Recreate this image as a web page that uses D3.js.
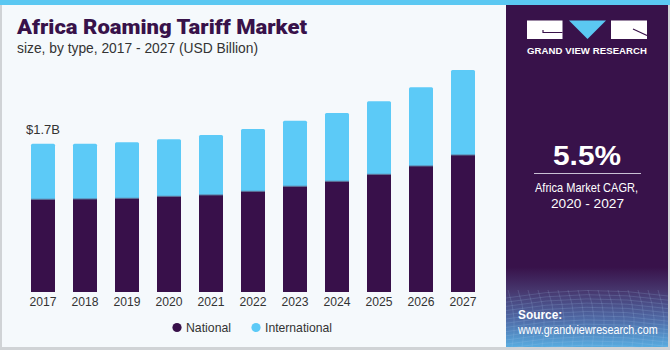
<!DOCTYPE html>
<html>
<head>
<meta charset="utf-8">
<script src="https://cdn.jsdelivr.net/npm/d3@7"></script>
<style>
  html, body { margin: 0; padding: 0; background: #fff; }
  svg { display: block; }
</style>
</head>
<body>
<div id="chart"></div>
<script>
// ---- data ----
const years = ["2017","2018","2019","2020","2021","2022","2023","2024","2025","2026","2027"];
const national = [1.063, 1.066, 1.074, 1.097, 1.112, 1.154, 1.212, 1.269, 1.349, 1.444, 1.570];
const international = [0.637, 0.634, 0.642, 0.653, 0.688, 0.714, 0.752, 0.783, 0.837, 0.902, 0.975];
const seriesNames = ["National", "International"];
const seriesColors = ["#38104a", "#5ccaf7"];
const firstLabel = "$1.7B";
const title = "Africa Roaming Tariff Market";
const subtitle = "size, by type, 2017 - 2027 (USD Billion)";
const cagrValue = "5.5%";
const cagrLabel = ["Africa Market CAGR,", "2020 - 2027"];

const W = 670, H = 350;
const FONT = "Liberation Sans, Arial, sans-serif";
const svg = d3.select("#chart").append("svg").attr("width", W).attr("height", H);
const defs = svg.append("defs");

// horizontally condensed text helper (keeps natural metrics inside the box)
function narrowText(g, x0, y0, sx, txt, size, weight) {
  return g.append("text").attr("transform", `translate(${x0},${y0}) scale(${sx},1)`)
    .attr("font-family", FONT).attr("font-size", size).attr("font-weight", weight || "normal")
    .attr("fill", "#fff").text(txt);
}

// background
svg.append("rect").attr("x", 0).attr("y", 0).attr("width", W).attr("height", H).attr("fill", "#f5f9fc");
// borders
svg.append("rect").attr("x", 0).attr("y", 0).attr("width", 2).attr("height", H).attr("fill", "#d0d3d6");
svg.append("rect").attr("x", 0).attr("y", H - 3).attr("width", W).attr("height", 3).attr("fill", "#d0d3d6");
svg.append("rect").attr("x", W - 2).attr("y", 0).attr("width", 2).attr("height", H).attr("fill", "#d0d3d6");

// right panel
const px = 506, pw = W - 2 - px;
const grad = defs.append("linearGradient").attr("id", "pg").attr("x1", 0).attr("y1", 0).attr("x2", 0).attr("y2", 1);
grad.append("stop").attr("offset", "0").attr("stop-color", "#38124a");
grad.append("stop").attr("offset", "0.77").attr("stop-color", "#38124a");
grad.append("stop").attr("offset", "0.84").attr("stop-color", "#47386f");
grad.append("stop").attr("offset", "0.92").attr("stop-color", "#4f6aa6");
grad.append("stop").attr("offset", "1").attr("stop-color", "#58ace0");
svg.append("rect").attr("x", px).attr("y", 0).attr("width", pw).attr("height", H - 3).attr("fill", "url(#pg)");

// faint mesh pattern at bottom of panel
const mesh = svg.append("g").attr("stroke", "#a9c8ee").attr("stroke-opacity", 0.22).attr("fill", "none").attr("stroke-width", 0.8);
for (let i = 0; i < 14; i++) {
  const yy = 292 + i * 4.2;
  mesh.append("path").attr("d", `M${px},${yy + 6} Q${px + 80},${yy - 8} ${W - 2},${yy + 4}`);
}
for (let i = 0; i < 16; i++) {
  const xx = px + 6 + i * 10;
  mesh.append("path").attr("d", `M${xx},${H - 3} Q${xx + 6},${318} ${xx - 4},${290}`);
}

// top blue strip
svg.append("rect").attr("x", 0).attr("y", 0).attr("width", W).attr("height", 5).attr("fill", "#5bc8f2");

// logo
const logo = svg.append("g");
logo.append("rect").attr("x", 527).attr("y", 20.5).attr("width", 35.5).attr("height", 18.5).attr("fill", "#fff");
logo.append("path").attr("d", "M543,30 L543,32.5 L562.5,32.5").attr("stroke", "#38124a").attr("stroke-width", 1.2).attr("fill", "none");
logo.append("path").attr("d", "M569,20.5 L606,20.5 L587.5,39 Z").attr("fill", "#5bc8f2");
logo.append("rect").attr("x", 611).attr("y", 20.5).attr("width", 36).attr("height", 18.5).attr("fill", "#fff");
logo.append("path").attr("d", "M633,29 L647,35.5").attr("stroke", "#38124a").attr("stroke-width", 1.2);
logo.append("text").attr("x", 527).attr("y", 53.5)
  .attr("font-family", FONT).attr("font-weight", "bold").attr("font-size", 9.6)
  .attr("textLength", 120).attr("lengthAdjust", "spacing")
  .attr("fill", "#fff").text("GRAND VIEW RESEARCH");

// CAGR
svg.append("text").attr("x", 553).attr("y", 165)
  .attr("font-family", FONT).attr("font-weight", "bold").attr("font-size", 28)
  .attr("textLength", 68).attr("lengthAdjust", "spacingAndGlyphs")
  .attr("fill", "#fff").text(cagrValue);
svg.append("line").attr("x1", 534).attr("x2", 641).attr("y1", 173.5).attr("y2", 173.5).attr("stroke", "#c9c0d4").attr("stroke-width", 1.2);
const cagrLens = [103, 73];
const cagrX = [535, 551];
cagrLabel.forEach((t, i) => {
  svg.append("text").attr("x", cagrX[i]).attr("y", 191.5 + i * 16.5)
    .attr("font-family", FONT).attr("font-size", 13)
    .attr("textLength", cagrLens[i]).attr("lengthAdjust", "spacingAndGlyphs")
    .attr("fill", "#fff").text(t);
});

// source
const src = svg.append("g");
narrowText(src, 518, 319, 0.95, "Source:", 12.5, "bold");
narrowText(src, 518, 334, 0.86, "www.grandviewresearch.com", 12.5);

// title
svg.append("text").attr("x", 17).attr("y", 34).attr("font-family", "Roboto, 'DejaVu Sans', sans-serif")
  .attr("font-weight", 900).attr("font-size", 20.5).attr("fill", "#38124a")
  .attr("textLength", 290).attr("lengthAdjust", "spacingAndGlyphs").text(title);
svg.append("text").attr("x", 17).attr("y", 53).attr("font-family", FONT)
  .attr("font-size", 14).attr("fill", "#333")
  .attr("textLength", 241).attr("lengthAdjust", "spacingAndGlyphs").text(subtitle);

// scales
const x = d3.scaleBand().domain(years).range([22, 484]).paddingInner(18 / 42).paddingOuter(9 / 42);
const y = d3.scaleLinear().domain([0, 2.6]).range([292, 292 - 2.6 * 87.24]);

const stackData = years.map((yr, i) => ({ year: yr, National: national[i], International: international[i] }));
const stack = d3.stack().keys(seriesNames)(stackData);

const barG = svg.append("g");
stack.forEach((layer, li) => {
  barG.append("g").attr("fill", seriesColors[li])
    .selectAll("path").data(layer).join("path")
    .attr("d", d => {
      const x0 = x(d.data.year), w = x.bandwidth();
      const yt = y(d[1]), yb = y(d[0]);
      if (li === 1) {
        const r = 1.5;
        return `M${x0},${yb} L${x0},${yt + r} Q${x0},${yt} ${x0 + r},${yt} L${x0 + w - r},${yt} Q${x0 + w},${yt} ${x0 + w},${yt + r} L${x0 + w},${yb} Z`;
      }
      return `M${x0},${yb} L${x0},${yt} L${x0 + w},${yt} L${x0 + w},${yb} Z`;
    });
});
// thin separator line between segments
barG.append("g").selectAll("line").data(stack[0]).join("line")
  .attr("x1", d => x(d.data.year)).attr("x2", d => x(d.data.year) + x.bandwidth())
  .attr("y1", d => y(d[1])).attr("y2", d => y(d[1]))
  .attr("stroke", "#5a6f95").attr("stroke-width", 1);

// x axis
const xAxis = svg.append("g").attr("transform", "translate(0,292)")
  .call(d3.axisBottom(x).tickSize(0).tickPadding(5));
xAxis.select(".domain").remove();
xAxis.selectAll("text").attr("font-family", FONT)
  .attr("font-size", 13).attr("fill", "#333")
  .attr("textLength", 27).attr("lengthAdjust", "spacingAndGlyphs");

// first value label
svg.append("text").attr("x", 26).attr("y", y(national[0] + international[0]) - 10)
  .attr("font-family", FONT).attr("font-size", 13).attr("fill", "#333")
  .attr("textLength", 34).attr("lengthAdjust", "spacingAndGlyphs").text(firstLabel);

// legend
const legendItems = [{ name: "National", cx: 177, len: 45 }, { name: "International", cx: 256, len: 67 }];
const lg = svg.append("g");
legendItems.forEach((it, i) => {
  lg.append("circle").attr("cx", it.cx).attr("cy", 327.5).attr("r", 4.6).attr("fill", seriesColors[i]);
  lg.append("text").attr("x", it.cx + 9).attr("y", 332)
    .attr("font-family", FONT).attr("font-size", 13).attr("fill", "#333")
    .attr("textLength", it.len).attr("lengthAdjust", "spacingAndGlyphs").text(it.name);
});
</script>
</body>
</html>
